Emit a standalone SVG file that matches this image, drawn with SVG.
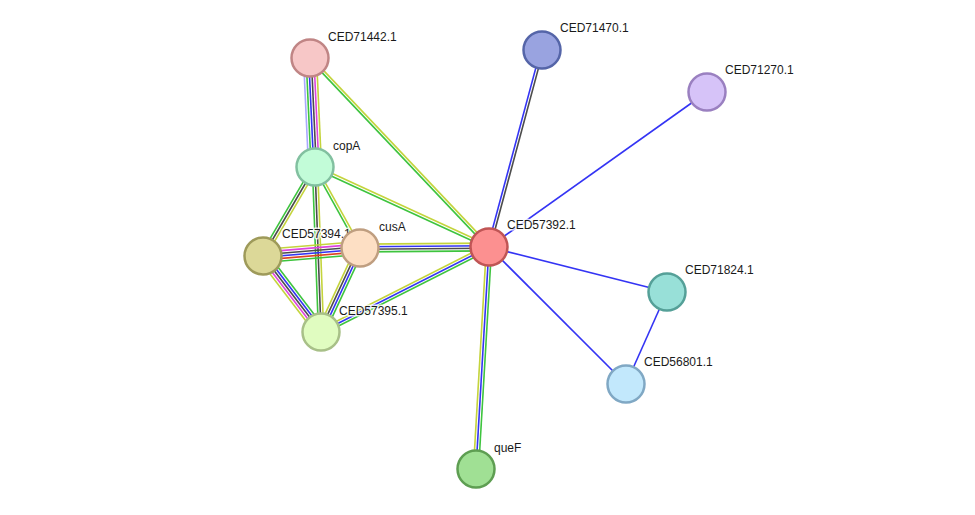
<svg xmlns="http://www.w3.org/2000/svg" width="975" height="515" viewBox="0 0 975 515">
<style>
  .e line { stroke-width: 1.6; fill: none; }
  .gr { stroke: #3ec43e; }
  .ye { stroke: #c4d43c; }
  .bl { stroke: #3434f4; }
  .dk { stroke: #4c4c4c; }
  .mg { stroke: #dd44dd; }
  .rd { stroke: #dd4422; }
  .lv { stroke: #a8a8ff; }
  .n circle { stroke-width: 2.5; }
  text { font-family: "Liberation Sans", Arial, sans-serif; font-size: 12px; fill: #1a1a1a; stroke: #ffffff; stroke-width: 3px; stroke-opacity: 0.8; paint-order: stroke; stroke-linejoin: round; }
</style>
<rect width="975" height="515" fill="#ffffff"/>
<g id="connectors" class="e">
  <!-- CED71442.1 - copA -->
  <g transform="translate(310 58) rotate(87.37)">
    <line class="lv" x1="0" y1="6.5" x2="109.1" y2="6.5"/>
    <line class="gr" x1="0" y1="3.9" x2="109.1" y2="3.9"/>
    <line class="bl" x1="0" y1="1.3" x2="109.1" y2="1.3"/>
    <line class="dk" x1="0" y1="-1.3" x2="109.1" y2="-1.3"/>
    <line class="mg" x1="0" y1="-3.9" x2="109.1" y2="-3.9"/>
    <line class="ye" x1="0" y1="-6.5" x2="109.1" y2="-6.5"/>
  </g>
  <!-- CED71442.1 - CED57392.1 -->
  <g transform="translate(310 58) rotate(46.55)">
    <line class="gr" x1="0" y1="1.3" x2="260.3" y2="1.3"/>
    <line class="ye" x1="0" y1="-1.3" x2="260.3" y2="-1.3"/>
  </g>
  <!-- CED71470.1 - CED57392.1 -->
  <g transform="translate(542 50) rotate(105.06)">
    <line class="bl" x1="0" y1="1.3" x2="204" y2="1.3"/>
    <line class="dk" x1="0" y1="-1.3" x2="204" y2="-1.3"/>
  </g>
  <!-- CED71270.1 - CED57392.1 -->
  <line class="bl" x1="707" y1="92" x2="489" y2="247"/>
  <!-- copA - CED57392.1 -->
  <g transform="translate(315 167) rotate(24.69)">
    <line class="gr" x1="0" y1="1.3" x2="191.5" y2="1.3"/>
    <line class="ye" x1="0" y1="-1.3" x2="191.5" y2="-1.3"/>
  </g>
  <!-- copA - CED57394.1 -->
  <g transform="translate(315 167) rotate(120.3)">
    <line class="gr" x1="0" y1="2.6" x2="103.1" y2="2.6"/>
    <line class="dk" x1="0" y1="0" x2="103.1" y2="0"/>
    <line class="ye" x1="0" y1="-2.6" x2="103.1" y2="-2.6"/>
  </g>
  <!-- copA - cusA -->
  <g transform="translate(315 167) rotate(60.95)">
    <line class="gr" x1="0" y1="1.3" x2="92.7" y2="1.3"/>
    <line class="ye" x1="0" y1="-1.3" x2="92.7" y2="-1.3"/>
  </g>
  <!-- copA - CED57395.1 -->
  <g transform="translate(315 167) rotate(87.9)">
    <line class="gr" x1="0" y1="2.6" x2="165.1" y2="2.6"/>
    <line class="dk" x1="0" y1="0" x2="165.1" y2="0"/>
    <line class="ye" x1="0" y1="-2.6" x2="165.1" y2="-2.6"/>
  </g>
  <!-- CED57394.1 - cusA -->
  <g transform="translate(263 256) rotate(-4.71)">
    <line class="ye" x1="0" y1="-6.5" x2="97.3" y2="-6.5"/>
    <line class="mg" x1="0" y1="-3.9" x2="97.3" y2="-3.9"/>
    <line class="dk" x1="0" y1="-1.3" x2="97.3" y2="-1.3"/>
    <line class="bl" x1="0" y1="1.3" x2="97.3" y2="1.3"/>
    <line class="rd" x1="0" y1="3.9" x2="97.3" y2="3.9"/>
    <line class="gr" x1="0" y1="6.5" x2="97.3" y2="6.5"/>
  </g>
  <!-- CED57394.1 - CED57395.1 -->
  <g transform="translate(263 256) rotate(52.66)">
    <line class="ye" x1="0" y1="5.2" x2="95.6" y2="5.2"/>
    <line class="mg" x1="0" y1="2.6" x2="95.6" y2="2.6"/>
    <line class="dk" x1="0" y1="0" x2="95.6" y2="0"/>
    <line class="bl" x1="0" y1="-2.6" x2="95.6" y2="-2.6"/>
    <line class="gr" x1="0" y1="-5.2" x2="95.6" y2="-5.2"/>
  </g>
  <!-- cusA - CED57395.1 -->
  <g transform="translate(360 248) rotate(114.9)">
    <line class="ye" x1="0" y1="3.9" x2="92.6" y2="3.9"/>
    <line class="dk" x1="0" y1="1.3" x2="92.6" y2="1.3"/>
    <line class="bl" x1="0" y1="-1.3" x2="92.6" y2="-1.3"/>
    <line class="gr" x1="0" y1="-3.9" x2="92.6" y2="-3.9"/>
  </g>
  <!-- cusA - CED57392.1 -->
  <g transform="translate(360 248) rotate(-0.44)">
    <line class="ye" x1="0" y1="-3.9" x2="129" y2="-3.9"/>
    <line class="bl" x1="0" y1="-1.3" x2="129" y2="-1.3"/>
    <line class="dk" x1="0" y1="1.3" x2="129" y2="1.3"/>
    <line class="gr" x1="0" y1="3.9" x2="129" y2="3.9"/>
  </g>
  <!-- CED57395.1 - CED57392.1 -->
  <g transform="translate(321 332) rotate(-26.84)">
    <line class="ye" x1="0" y1="-2.6" x2="188.3" y2="-2.6"/>
    <line class="bl" x1="0" y1="0" x2="188.3" y2="0"/>
    <line class="gr" x1="0" y1="2.6" x2="188.3" y2="2.6"/>
  </g>
  <!-- CED57392.1 - queF -->
  <g transform="translate(489 247) rotate(93.35)">
    <line class="ye" x1="0" y1="2.6" x2="222.4" y2="2.6"/>
    <line class="bl" x1="0" y1="0" x2="222.4" y2="0"/>
    <line class="gr" x1="0" y1="-2.6" x2="222.4" y2="-2.6"/>
  </g>
  <!-- CED57392.1 - CED71824.1 -->
  <line class="bl" x1="489" y1="247" x2="667" y2="292"/>
  <!-- CED57392.1 - CED56801.1 -->
  <line class="bl" x1="489" y1="247" x2="626" y2="384"/>
  <!-- CED71824.1 - CED56801.1 -->
  <line class="bl" x1="667" y1="292" x2="626" y2="384"/>
</g>
<g id="CED71442.1" class="n"><circle cx="310" cy="58" r="18.5" fill="#f7c7c7" stroke="#c08585"/><text x="328" y="41">CED71442.1</text></g>
<g id="CED71470.1" class="n"><circle cx="542" cy="50" r="18.5" fill="#99a3e0" stroke="#5565a8"/><text x="560" y="32">CED71470.1</text></g>
<g id="CED71270.1" class="n"><circle cx="707" cy="92" r="18.5" fill="#d6c3f8" stroke="#9a80c0"/><text x="725" y="74">CED71270.1</text></g>
<g id="copA" class="n"><circle cx="315" cy="167" r="18.5" fill="#c2fcd8" stroke="#82c0a0"/><text x="333" y="150">copA</text></g>
<g id="CED57394.1" class="n"><circle cx="263" cy="256" r="18.5" fill="#dcd898" stroke="#9e9a5a"/><text x="282" y="238">CED57394.1</text></g>
<g id="cusA" class="n"><circle cx="360" cy="248" r="18.5" fill="#fddfc4" stroke="#bf9e80"/><text x="379" y="231">cusA</text></g>
<g id="CED57395.1" class="n"><circle cx="321" cy="332" r="18.5" fill="#e0fcc0" stroke="#a8c088"/><text x="339" y="315">CED57395.1</text></g>
<g id="CED57392.1" class="n"><circle cx="489" cy="247" r="18.5" fill="#fc9090" stroke="#c05555"/><text x="507" y="229">CED57392.1</text></g>
<g id="CED71824.1" class="n"><circle cx="667" cy="292" r="18.5" fill="#98e0d8" stroke="#55a098"/><text x="685" y="274">CED71824.1</text></g>
<g id="CED56801.1" class="n"><circle cx="626" cy="384" r="18.5" fill="#c2e8fc" stroke="#80a8c4"/><text x="644" y="366">CED56801.1</text></g>
<g id="queF" class="n"><circle cx="476" cy="469" r="18.5" fill="#a0e094" stroke="#5e9e52"/><text x="494" y="452">queF</text></g>
</svg>
